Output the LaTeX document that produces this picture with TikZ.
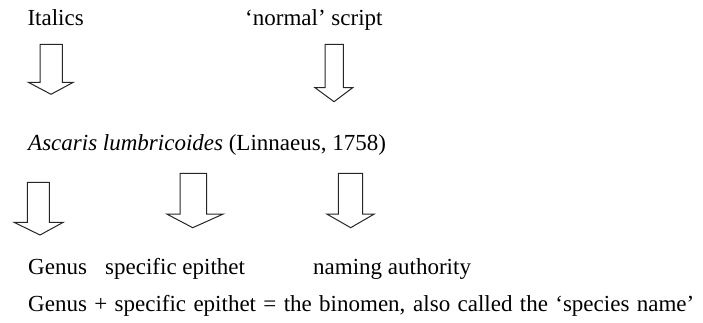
\documentclass[tikz,border=0pt]{standalone}
\usepackage{fontspec}
\setmainfont{Liberation Serif}
\begin{document}
\begin{tikzpicture}[x=1pt,y=-1pt,
  txt/.style={anchor=base west,inner sep=0pt,font=\fontsize{23}{27}\selectfont},
  blockarrow/.style={draw=black!85,line width=1pt,line join=miter,fill=white}]
\useasboundingbox (0,0) rectangle (703,323);
% texts
\node[txt] (ital) at (27.3,25.7) {Italics};
\node[txt] (norm) at (245,25.7) {‘normal’ script};
\node[txt] (name) at (28,151) {\textit{Ascaris lumbricoides} (Linnaeus, 1758)};
\node[txt] (genus) at (28,274) {Genus};
\node[txt] (epi) at (105,274) {specific epithet};
\node[txt] (auth) at (313,274) {naming authority};
\node[txt] (binom) at (28,311) {\makebox[666pt][s]{Genus + specific epithet = the binomen, also called the ‘species name’}};
% block arrows
\draw[blockarrow] (40,44.3) -- (62.3,44.3) -- (62.3,82.3) -- (73.3,82.3) -- (51,94.3) -- (28.3,82.3) -- (40,82.3) -- cycle;
\draw[blockarrow] (325,44.3) -- (343.3,44.3) -- (343.3,87.7) -- (352.7,87.7) -- (334,101.7) -- (315,87.7) -- (325,87.7) -- cycle;
\draw[blockarrow] (27.3,182.3) -- (49.3,182.3) -- (49.3,222.3) -- (63.3,222.3) -- (40,235) -- (14,222.3) -- (27.3,222.3) -- cycle;
\draw[blockarrow] (180,173.3) -- (206.7,173.3) -- (206.7,214) -- (223.3,214) -- (192.7,227.7) -- (166.7,214) -- (180,214) -- cycle;
\draw[blockarrow] (338.3,173.3) -- (362.7,173.3) -- (362.7,214) -- (374.3,214) -- (350.7,227.7) -- (326.7,214) -- (338.3,214) -- cycle;
\end{tikzpicture}
\end{document}
